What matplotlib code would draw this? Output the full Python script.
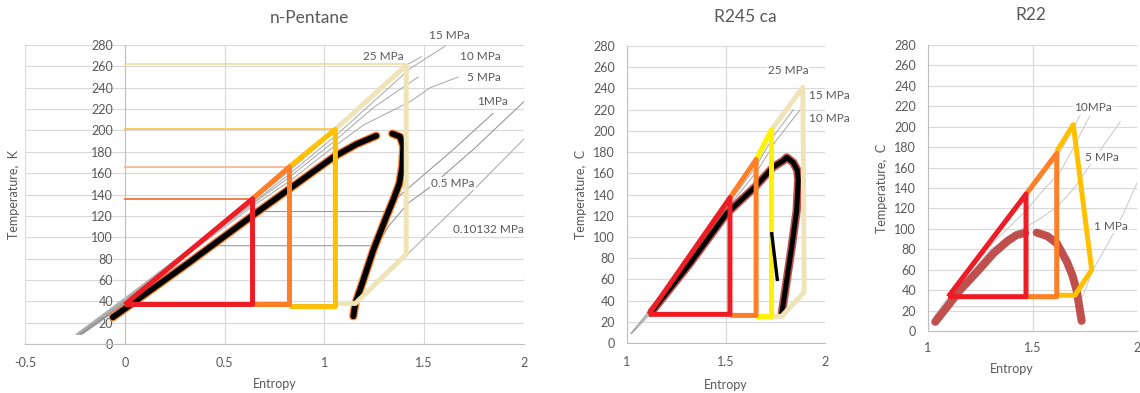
import matplotlib
matplotlib.use("Agg")
import matplotlib.pyplot as plt

plt.rcParams['font.family'] = ['Lato', 'DejaVu Sans']
plt.rcParams['axes.unicode_minus'] = False

# ---------------- data: n-Pentane ----------------
pent_red_s = [0.0, 0.64, 0.64, 0.0]
pent_red_t = [37, 136, 37, 37]
pent_orange_s = [0.64, 0.825, 0.825, 0.64]
pent_orange_t = [136, 166, 37, 37]
pent_yellow_s = [0.825, 1.055, 1.055, 0.825]
pent_yellow_t = [166, 201, 35, 35]
pent_cream_s = [1.055, 1.41, 1.41, 1.155, 1.055]
pent_cream_t = [201, 261, 84, 38, 38]

pent_liq_s = [-0.06, 0.0, 0.32, 0.645, 0.83, 1.045, 1.16, 1.26]
pent_liq_t = [25, 33, 76, 121, 146, 175, 187, 195]
pent_vap_s = [1.34, 1.38, 1.395, 1.39, 1.375, 1.345, 1.31, 1.245, 1.19, 1.155, 1.145]
pent_vap_t = [197, 194, 185, 166, 150, 135, 119, 88, 57, 38, 26]

pent_iso25_s = [-0.245, 0.0, 0.64, 0.83, 1.05, 1.41, 1.485]
pent_iso25_t = [9, 43, 134, 163, 199, 261, 269]
pent_iso15_s = [-0.24, 0.0, 0.64, 0.83, 1.05, 1.43, 1.605]
pent_iso15_t = [9, 42, 132, 160, 194, 258, 279]
pent_iso10_s = [-0.235, 0.0, 0.64, 0.83, 1.05, 1.25, 1.47]
pent_iso10_t = [9, 41, 131, 157, 190, 222, 250]
pent_iso5_s = [-0.23, 0.0, 0.64, 0.83, 1.0, 1.195, 1.43, 1.53, 1.67]
pent_iso5_t = [9, 40, 129, 153, 178, 205, 227, 240, 250]
pent_iso1_s = [-0.225, 0.0, 0.67, 1.31, 1.365, 1.645, 1.845]
pent_iso1_t = [9, 39, 124, 124, 137, 182, 216]
pent_iso05_s = [-0.22, 0.0, 0.44, 1.265, 1.32, 1.42, 1.53, 1.745, 2.0]
pent_iso05_t = [9, 38, 92, 92, 110, 132, 147, 182, 227]
pent_iso01_s = [-0.215, 0.0, 1.145, 1.41, 1.73, 2.0]
pent_iso01_t = [9, 37, 37, 83, 141, 192]

pent_ref_t = [262, 201, 166, 136]
pent_ref_s = [1.41, 1.055, 0.825, 0.64]

pent_labels = ["15 MPa", "25 MPa", "10 MPa", "5 MPa", "1MPa", "0.5 MPa", "0.10132 MPa"]
pent_label_s = [1.625, 1.295, 1.78, 1.80, 1.84, 1.645, 1.82]
pent_label_t = [289, 269, 269, 250, 227, 150, 107]

# ---------------- data: R245 ca ----------------
r245_red_s = [1.11, 1.52, 1.52, 1.11]
r245_red_t = [27, 137, 27, 27]
r245_orange_s = [1.52, 1.652, 1.652, 1.52]
r245_orange_t = [137, 173, 26, 26]
r245_yellow_s = [1.652, 1.73, 1.73, 1.652]
r245_yellow_t = [173, 201, 25, 25]
r245_cream_s = [1.73, 1.888, 1.895, 1.78, 1.73]
r245_cream_t = [201, 241, 48, 25, 25]

r245_dome_s = [1.125, 1.318, 1.503, 1.646, 1.739, 1.79, 1.807, 1.84, 1.86, 1.865,
               1.857, 1.832, 1.807, 1.782]
r245_dome_t = [29.5, 75, 122, 147, 166, 172, 175, 170, 163, 153.7, 125, 90.8, 59.4, 28]
r245_seg_s = [1.731, 1.759]
r245_seg_t = [103, 60]

r245_iso25_s = [1.02, 1.11, 1.52, 1.65, 1.73, 1.885]
r245_iso25_t = [9, 30, 137, 172, 200, 240]
r245_iso15_s = [1.02, 1.12, 1.52, 1.65, 1.74, 1.84]
r245_iso15_t = [9, 30, 133, 166, 195, 220]
r245_iso10_s = [1.025, 1.13, 1.52, 1.66, 1.75, 1.875]
r245_iso10_t = [9, 30, 130, 163, 190, 220]

r245_labels = ["25 MPa", "15 MPa", "10 MPa"]
r245_label_s = [1.813, 2.02, 2.02]
r245_label_t = [257, 233, 212]

# ---------------- data: R22 ----------------
r22_red_s = [1.097, 1.469, 1.469, 1.097]
r22_red_t = [33.6, 134, 33.6, 33.6]
r22_orange_s = [1.469, 1.616, 1.616, 1.469]
r22_orange_t = [134, 174, 33.6, 33.6]
r22_yellow_s = [1.616, 1.695, 1.783, 1.703, 1.616]
r22_yellow_t = [176, 202, 60, 35, 35]

r22_liq_s = [1.035, 1.10, 1.153, 1.235, 1.313, 1.38, 1.424, 1.465]
r22_liq_t = [9, 26, 40, 58, 76, 88, 94, 96]
r22_vap_s = [1.52, 1.57, 1.616, 1.664, 1.69, 1.711, 1.735]
r22_vap_t = [96.3, 93, 86, 68, 55, 40, 10]

r22_iso10_s = [1.03, 1.10, 1.30, 1.47, 1.62, 1.70, 1.727]
r22_iso10_t = [14, 34, 88, 131, 171, 200, 211]
r22_iso7_s = [1.03, 1.10, 1.30, 1.47, 1.56, 1.63, 1.69, 1.775]
r22_iso7_t = [13, 32, 84, 118, 140, 155, 177, 211]
r22_iso5_s = [1.03, 1.10, 1.30, 1.45, 1.53, 1.62, 1.70, 1.80, 1.92]
r22_iso5_t = [12, 30, 80, 100, 109, 122, 140, 170, 205]
r22_iso1_s = [1.03, 1.09, 1.72, 1.74, 1.79, 1.87, 1.935, 2.0]
r22_iso1_t = [11, 23.8, 23.8, 34, 60, 89, 115, 145]

r22_labels = ["10MPa", "5 MPa", "1 MPa"]
r22_label_s = [1.79, 1.833, 1.876]
r22_label_t = [219, 170, 102]

y_ticks = list(range(0, 281, 20))

# ---------------- styling ----------------
TEXT = '#595959'
GRID = '#D9D9D9'
AXIS = '#BFBFBF'
ISO = '#A6A6A6'
RED = '#EE1C25'
ORANGE = '#FF7F27'
GOLD = '#FFC000'
YELLOW = '#FFF200'
CREAM = '#EFE4B8'
BROWN = '#C0504D'

W, H = 1140, 393
fig = plt.figure(figsize=(W / 100, H / 100), dpi=100)


def make_axes(x0, x1, ytop, ybot):
    return fig.add_axes([x0 / W, 1 - ybot / H, (x1 - x0) / W, (ybot - ytop) / H])


def style(ax, xlim, xticks, xticklabels, yaxis_at, title, title_xy, ylabel, ylab_x,
          xlab_xy, xpad):
    ax.set_xlim(*xlim)
    ax.set_ylim(0, 280)
    ax.set_xticks(xticks)
    ax.set_xticklabels(xticklabels)
    ax.set_yticks(y_ticks)
    ax.grid(True, color=GRID, lw=0.8)
    ax.set_axisbelow(True)
    for s in ['top', 'right']:
        ax.spines[s].set_visible(False)
    ax.spines['left'].set_position(('data', yaxis_at))
    ax.spines['left'].set_color(AXIS)
    ax.spines['bottom'].set_color(AXIS)
    ax.spines['left'].set_linewidth(0.8)
    ax.spines['bottom'].set_linewidth(0.8)
    ax.tick_params(length=0, labelsize=9, labelcolor=TEXT)
    ax.tick_params(axis='y', pad=8.5)
    ax.tick_params(axis='x', pad=xpad)
    ax.text(title_xy[0], title_xy[1], title, transform=ax.transAxes, fontsize=12.5,
            color=TEXT, ha='center', va='center')
    ax.set_ylabel(ylabel, fontsize=9, color=TEXT)
    ax.yaxis.set_label_coords(ylab_x, 0.5)
    ax.set_xlabel("Entropy", fontsize=9, color=TEXT)
    ax.xaxis.set_label_coords(*xlab_xy)


def iso(ax, s, t, color=ISO, lw=0.7):
    ax.plot(s, t, color=color, lw=lw, zorder=2)


def cycle(ax, s, t, color):
    ax.plot(s, t, color=color, lw=3.6, solid_joinstyle='round',
            solid_capstyle='butt', zorder=5)


def labels(ax, texts, ss, ts):
    for txt, s, t in zip(texts, ss, ts):
        ax.text(s, t, txt, fontsize=8.5, color=TEXT, ha='center', va='center',
                zorder=8, clip_on=False,
                bbox=dict(boxstyle='square,pad=0.08', fc='white', ec='none'))


# ---------------- n-Pentane ----------------
ax1 = make_axes(25, 524, 45, 344)
style(ax1, (-0.5, 2.0), [-0.5, 0, 0.5, 1, 1.5, 2],
      ['-0.5', '0', '0.5', '1', '1.5', '2'], 0.0,
      "n-Pentane", (0.571, 1.090), "Temperature,  K", -0.01, (0.5, -0.114), 9.5)

for s, t in [(pent_iso25_s, pent_iso25_t), (pent_iso15_s, pent_iso15_t),
             (pent_iso10_s, pent_iso10_t), (pent_iso5_s, pent_iso5_t),
             (pent_iso01_s, pent_iso01_t)]:
    iso(ax1, s, t)
iso(ax1, pent_iso1_s, pent_iso1_t, color='#8C8C8C')
iso(ax1, pent_iso05_s, pent_iso05_t, color='#8C8C8C')

ref_colors = ['#EEDFA6', '#F6C955', '#F6B896', '#E8743B']
for t, s, c in zip(pent_ref_t, pent_ref_s, ref_colors):
    ax1.plot([0, s], [t, t], color=c, lw=1.3, zorder=3)

for s, t in [(pent_liq_s, pent_liq_t), (pent_vap_s, pent_vap_t)]:
    ax1.plot(s, t, color=ORANGE, lw=6.0, solid_capstyle='round',
             solid_joinstyle='round', zorder=4)
    ax1.plot(s, t, color='black', lw=4.2, solid_capstyle='round',
             solid_joinstyle='round', zorder=4)

cycle(ax1, pent_cream_s, pent_cream_t, CREAM)
cycle(ax1, pent_yellow_s, pent_yellow_t, GOLD)
cycle(ax1, pent_orange_s, pent_orange_t, ORANGE)
cycle(ax1, pent_red_s, pent_red_t, RED)
labels(ax1, pent_labels, pent_label_s, pent_label_t)

# ---------------- R245 ca ----------------
ax2 = make_axes(627, 825, 46, 343)
style(ax2, (1.0, 2.0), [1, 1.5, 2], ['1', '1.5', '2'], 1.0,
      "R245 ca", (0.596, 1.098), "Temperature,  C", -0.202, (0.5, -0.121), 9)

for s, t in [(r245_iso25_s, r245_iso25_t), (r245_iso15_s, r245_iso15_t),
             (r245_iso10_s, r245_iso10_t)]:
    iso(ax2, s, t)

ax2.plot(r245_dome_s, r245_dome_t, color=BROWN, lw=6.0, solid_capstyle='round',
         solid_joinstyle='round', zorder=4)
ax2.plot(r245_dome_s, r245_dome_t, color='black', lw=3.6, solid_capstyle='round',
         solid_joinstyle='round', zorder=4)
ax2.plot(r245_seg_s, r245_seg_t, color='black', lw=2.4, zorder=6)

cycle(ax2, r245_cream_s, r245_cream_t, CREAM)
cycle(ax2, r245_yellow_s, r245_yellow_t, YELLOW)
cycle(ax2, r245_orange_s, r245_orange_t, ORANGE)
cycle(ax2, r245_red_s, r245_red_t, RED)
labels(ax2, r245_labels, r245_label_s, r245_label_t)

# ---------------- R22 ----------------
ax3 = make_axes(928, 1137, 45, 331)
style(ax3, (1.0, 2.0), [1, 1.5, 2], ['1', '1.5', '2'], 1.0,
      "R22", (0.49, 1.105), "Temperature,  C", -0.191, (0.40, -0.112), 8)

for s, t in [(r22_iso10_s, r22_iso10_t), (r22_iso7_s, r22_iso7_t),
             (r22_iso5_s, r22_iso5_t), (r22_iso1_s, r22_iso1_t)]:
    iso(ax3, s, t, color='#C8C8C8')

for s, t in [(r22_liq_s, r22_liq_t), (r22_vap_s, r22_vap_t)]:
    ax3.plot(s, t, color=BROWN, lw=5.8, solid_capstyle='round',
             solid_joinstyle='round', zorder=4)

cycle(ax3, r22_yellow_s, r22_yellow_t, GOLD)
cycle(ax3, r22_orange_s, r22_orange_t, ORANGE)
cycle(ax3, r22_red_s, r22_red_t, RED)
labels(ax3, r22_labels, r22_label_s, r22_label_t)

fig.savefig("out.png", dpi=100, facecolor='white')
